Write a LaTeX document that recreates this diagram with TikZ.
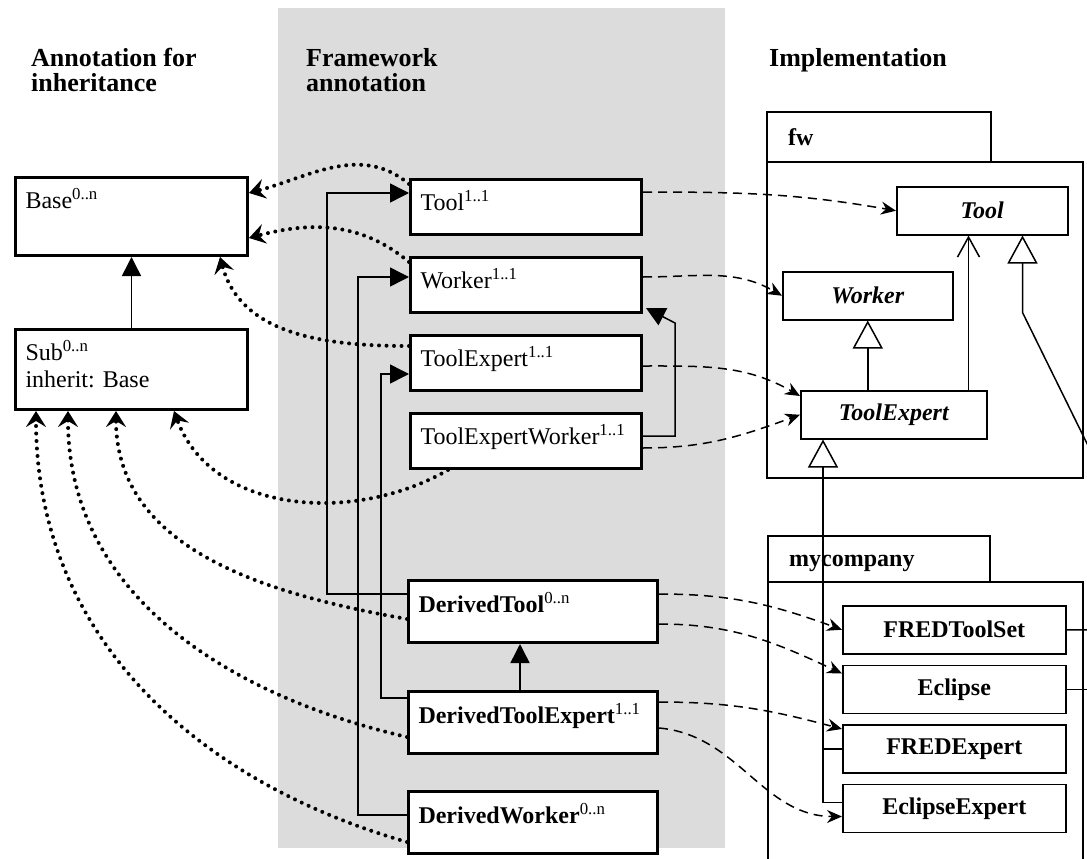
\documentclass[tikz,border=0pt]{standalone}
\usepackage{fontspec}
\setmainfont{Liberation Serif}
\usetikzlibrary{arrows.meta,calc,positioning}
\definecolor{bggray}{RGB}{220,220,220}
\newcommand\boxfont{\fontsize{24}{27}\selectfont}
\frenchspacing

\tikzset{
  annbox/.style={draw, line width=3pt, fill=white, anchor=north west, minimum width=232pt,
    text width=212pt, inner xsep=10pt, inner ysep=0pt, align=left},
  fwbox/.style={annbox, minimum width=231pt, text width=211pt, text height=31pt, text depth=24pt},
  derbox/.style={annbox, minimum width=249pt, text width=229pt, text height=32pt, text depth=30pt},
  implbox/.style={draw, line width=1.5pt, fill=white, anchor=north west, inner sep=0pt, minimum height=48pt,
    font=\boxfont\bfseries},
  hdr/.style={anchor=north west, align=left, inner sep=0pt, font=\bfseries\fontsize{26}{25}\selectfont},
  pkg/.style={draw, line width=1.5pt},
  inh/.style={line width=1.5pt, -{Triangle[length=19pt,width=19pt]}},
  gen/.style={line width=1.5pt, -{Triangle[open,length=28pt,width=30pt]}},
  uses/.style={line width=1.5pt, -{Straight Barb[length=20pt,width=22pt]}},
  impl/.style={line width=1.5pt, dash pattern=on 9pt off 6pt, -{Stealth[length=15pt,width=13pt,inset=5pt]}},
  annot/.style={line width=4pt, line cap=round, dash pattern=on 0pt off 7.5pt, -{Stealth[length=16pt,width=20pt,inset=6pt]}},
}

\begin{document}
\begin{tikzpicture}[x=1pt,y=-1pt,font=\boxfont]
  \clip (0,0) rectangle (1087,859);
  \fill[white] (0,0) rectangle (1087,859);
  \fill[bggray] (278,8) rectangle (725,848);

  \node[hdr] (hann) at (31,48) {Annotation for\\inheritance};
  \node[hdr] (hfw)  at (306,48) {Framework\\annotation};
  \node[hdr] (himp) at (769,48) {Implementation};

  % annotation for inheritance
  \node[annbox, text height=31pt, text depth=47pt] (base) at (14,176) {Base\textsuperscript{0..n}};
  \node[annbox, text height=31pt, text depth=49pt] (sub)  at (14,328) {Sub\textsuperscript{0..n}\\inherit: Base};

  % framework annotation
  \node[fwbox] (tool) at (409,178) {Tool\textsuperscript{1..1}};
  \node[fwbox, below=20pt of tool.south west, anchor=north west] (worker) {Worker\textsuperscript{1..1}};
  \node[fwbox, below=20pt of worker.south west, anchor=north west] (toolexp) {ToolExpert\textsuperscript{1..1}};
  \node[fwbox, below=20pt of toolexp.south west, anchor=north west] (toolexpw) {ToolExpertWorker\textsuperscript{1..1}};
  \node[derbox] (dtool) at (407,579) {\textbf{DerivedTool}\textsuperscript{0..n}};
  \node[derbox, below=46pt of dtool.south west, anchor=north west] (dtoolexp) {\textbf{DerivedToolExpert}\textsuperscript{1..1}};
  \node[derbox, below=35pt of dtoolexp.south west, anchor=north west] (dworker) {\textbf{DerivedWorker}\textsuperscript{0..n}};

  % implementation
  \draw[pkg] (767,112) rectangle (991,162);
  \draw[pkg] (767,162) rectangle (1083,478);
  \node[anchor=base west, inner sep=0pt, font=\boxfont\bfseries] (fwlbl) at (788,145) {fw};
  \draw[pkg] (768,536) rectangle (990,582);
  \draw[pkg] (768,582) rectangle (1083,880);
  \node[anchor=base west, inner sep=0pt, font=\boxfont\bfseries] (mclbl) at (789,566) {mycompany};

  \node[implbox, minimum width=171pt, font=\boxfont\bfseries\itshape] (fwtool) at (896,186) {Tool};
  \node[implbox, minimum width=170pt, font=\boxfont\bfseries\itshape] (fwworker) at (782,271) {Worker};
  \node[implbox, minimum width=186pt, font=\boxfont\bfseries\itshape] (fwtoolexp) at (800,390) {ToolExpert};
  \node[implbox, minimum width=223pt] (fredset) at (842,605) {FREDToolSet};
  \node[implbox, minimum width=223pt, below=10pt of fredset.south west, anchor=north west] (eclipse) {Eclipse};
  \node[implbox, minimum width=223pt, below=10pt of eclipse.south west, anchor=north west] (fredexp) {FREDExpert};
  \node[implbox, minimum width=223pt, below=10pt of fredexp.south west, anchor=north west] (eclexp) {EclipseExpert};

  \draw[inh] (sub.north) -- (base.south);
  \draw[inh] ($(dtoolexp.north)+(-13,0)$) -- ($(dtool.south)+(-13,0)$);
  \draw[inh] ($(dtool.north west)+(0,15)$) -- ++(-80,0) |- ($(tool.north west)+(0,15)$);
  \draw[inh] ($(dworker.north west)+(0,25)$) -- ++(-49,0) |- ($(worker.north west)+(0,21)$);
  \draw[inh] ($(dtoolexp.north west)+(0,8)$) -- ++(-26,0) |- ($(toolexp.north west)+(0,40)$);
  \draw[inh] ($(toolexpw.north east)+(0,24)$) -- ++(32,0) -- ++(0,-113) -- ($(worker.south east)+(3,-6)$);

  \draw[gen] (fwworker.south |- fwtoolexp.north) -- (fwworker.south);
  \coordinate (fwup) at ($(fwtoolexp.north east)+(-19,0)$);
  \draw[uses] (fwup) -- (fwup |- fwtool.south);
  \coordinate (mcup) at ($(fwtool.south east)+(-46,0)$);
  \coordinate (mcbend) at ($(mcup)+(0,77)$);
  \draw[gen] (fredset.east) -- ++(27,0) -- ++(0,-173) -- (mcbend) -- (mcup);
  \draw[line width=1.5pt] (eclipse.east) -- ++(27,0);
  \draw[gen] ($(eclexp.west)+(0,-6)$) -- ++(-19,0) -- ($(fwtoolexp.south west)+(23,0)$);
  \draw[line width=1.5pt] (fredexp.west) -- ++(-19,0);

  \draw[impl] ($(tool.north east)+(0,14)$) to[out=0,in=170] (fwtool.west);
  \draw[impl] ($(worker.north east)+(0,21)$) to[out=0,in=150] (fwworker.west);
  \draw[impl] ($(toolexp.north east)+(0,32)$) to[out=0,in=150] ($(fwtoolexp.north west)+(0,6)$);
  \draw[impl] ($(toolexpw.north east)+(0,36)$) to[out=0,in=200] (fwtoolexp.west);
  \draw[impl] ($(dtool.north east)+(0,15)$) to[out=0,in=160] (fredset.west);
  \draw[impl] ($(dtool.north east)+(0,45)$) to[out=0,in=155] ($(eclipse.north west)+(0,9)$);
  \draw[impl] ($(dtoolexp.north east)+(0,12)$) to[out=0,in=165] ($(fredexp.north west)+(0,5)$);
  \draw[impl] ($(dtoolexp.north east)+(0,38)$) to[out=-5,in=180] ($(eclexp.north west)+(0,33)$);

  \draw[annot] ($(tool.north west)+(0,6)$) to[out=140,in=15] ($(base.north east)+(0,17)$);
  \draw[annot] ($(worker.north west)+(0,6)$) to[out=140,in=15] ($(base.north east)+(0,62)$);
  \draw[annot] ($(toolexp.north west)+(0,12)$) to[out=180,in=-75] ($(base.south east)+(-29,0)$);
  \draw[annot] ($(toolexpw.south west)+(39,0)$) to[out=210,in=-70] ($(sub.south west)+(160,0)$);
  \draw[annot] ($(dtool.north west)+(0,40)$) to[out=170,in=-90] ($(sub.south west)+(102,0)$);
  \draw[annot] ($(dtoolexp.north west)+(0,47)$) to[out=167,in=-90] ($(sub.south west)+(54,0)$);
  \draw[annot] ($(dworker.north west)+(0,52)$) to[out=164,in=-90] ($(sub.south west)+(22,0)$);
\end{tikzpicture}
\end{document}
